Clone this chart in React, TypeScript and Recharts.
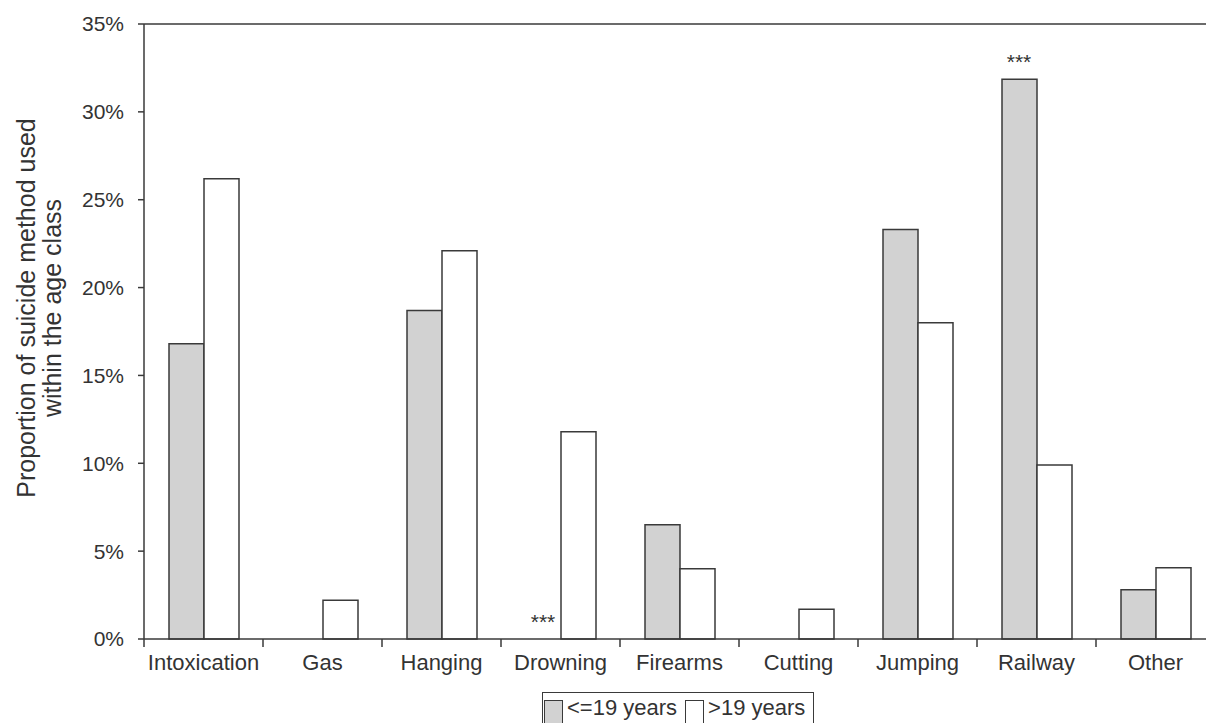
import React from "react";
import {
  BarChart,
  Bar,
  XAxis,
  YAxis,
  ReferenceLine,
  ReferenceDot,
  Legend,
  Label,
} from "recharts";

const methods = [
  "Intoxication",
  "Gas",
  "Hanging",
  "Drowning",
  "Firearms",
  "Cutting",
  "Jumping",
  "Railway",
  "Other",
];
const youngShare = [16.8, 0, 18.7, 0, 6.5, 0, 23.3, 31.85, 2.8];
const olderShare = [26.2, 2.2, 22.1, 11.8, 4.0, 1.7, 18.0, 9.9, 4.05];
const significance = ["", "", "", "***", "", "", "", "***", ""];
const yTicks = [0, 5, 10, 15, 20, 25, 30, 35];

const data = methods.map((name, i) => ({
  name,
  young: youngShare[i],
  older: olderShare[i],
}));

const FONT = "'Liberation Sans', Arial, Helvetica, sans-serif";
const TEXT = "#333";
const INK = "#3a3a3a";

const CHART_W = 1230;
const CHART_H = 723;
const Y_AXIS_W = 144;
const X_AXIS_H = 84;
const BAR_W = 35;
const MARGIN = { top: 24, right: 15, bottom: 0, left: 0 };
const BAND = (CHART_W - MARGIN.left - MARGIN.right - Y_AXIS_W) / methods.length;

function CategoryTick(props: any) {
  const { x, y, payload, index } = props;
  const last = index === methods.length - 1;
  return (
    <g>
      <line x1={x - BAND / 2} x2={x - BAND / 2} y1={y} y2={y + 8} stroke={INK} strokeWidth={1.5} />
      {last && (
        <line x1={x + BAND / 2} x2={x + BAND / 2} y1={y} y2={y + 8} stroke={INK} strokeWidth={1.5} />
      )}
      <text x={x} y={y + 31} textAnchor="middle" fontSize={22} fill={TEXT} fontFamily={FONT}>
        {payload.value}
      </text>
    </g>
  );
}

function YTitle() {
  return (
    <g fontFamily={FONT} fontSize={25} fill={TEXT} textAnchor="middle">
      <text transform="translate(35,308) rotate(-90)">Proportion of suicide method used</text>
      <text transform="translate(61,308) rotate(-90)">within the age class</text>
    </g>
  );
}

// "***" sits above the <=19 bar, which is the left half of the bar pair
function Stars(props: any) {
  const { cx, cy } = props;
  return (
    <text x={cx - BAR_W / 2} y={cy - 10} textAnchor="middle" fontSize={21} fill={TEXT} fontFamily={FONT}>
      ***
    </text>
  );
}

const swatch = (fill: string): React.CSSProperties => ({
  width: 17,
  height: 22,
  border: `1.5px solid ${INK}`,
  background: fill,
  display: "inline-block",
  flex: "none",
});

function AgeLegend() {
  return (
    <div
      style={{
        display: "flex",
        alignItems: "flex-start",
        border: `1.5px solid ${INK}`,
        padding: "7px 8px 4px 1px",
        fontFamily: FONT,
        fontSize: 22,
        color: TEXT,
        lineHeight: "24px",
        whiteSpace: "nowrap",
      }}
    >
      <span style={swatch("#d2d2d2")} />
      <span style={{ marginLeft: 4, marginRight: 8, marginTop: -4 }}>&lt;=19 years</span>
      <span style={swatch("#ffffff")} />
      <span style={{ marginLeft: 4, marginTop: -4 }}>&gt;19 years</span>
    </div>
  );
}

export default function App() {
  return (
    <div style={{ width: 1206, height: 723, overflow: "hidden", background: "#fff" }}>
      <style>{"html,body{margin:0;padding:0;overflow:hidden}"}</style>
      <BarChart width={CHART_W} height={CHART_H} data={data} margin={MARGIN} barGap={0}>
        <XAxis
          dataKey="name"
          height={X_AXIS_H}
          tickSize={0}
          tickMargin={0}
          tickLine={false}
          axisLine={{ stroke: INK, strokeWidth: 1.5 }}
          tick={<CategoryTick />}
          interval={0}
        />
        <YAxis
          width={Y_AXIS_W}
          domain={[0, 35]}
          ticks={yTicks}
          tickFormatter={(v: number) => `${v}%`}
          tickSize={6}
          tickMargin={14}
          tickLine={{ stroke: INK, strokeWidth: 1.5 }}
          axisLine={{ stroke: INK, strokeWidth: 1.5 }}
          tick={{ fontSize: 21, fill: TEXT, fontFamily: FONT }}
        >
          <Label content={<YTitle />} />
        </YAxis>
        <ReferenceLine y={35} stroke={INK} strokeWidth={1.5} />
        <Bar dataKey="young" name="<=19 years" fill="#d2d2d2" stroke={INK} strokeWidth={1.5} barSize={BAR_W} isAnimationActive={false} />
        <Bar dataKey="older" name=">19 years" fill="#ffffff" stroke={INK} strokeWidth={1.5} barSize={BAR_W} isAnimationActive={false} />
        {methods.map((name, i) =>
          significance[i] ? (
            <ReferenceDot key={name} x={name} y={youngShare[i]} shape={<Stars />} />
          ) : null
        )}
        <Legend
          verticalAlign="middle"
          align="center"
          layout="horizontal"
          content={<AgeLegend />}
          wrapperStyle={{ left: 542, top: 692, width: "auto", height: "auto" }}
        />
      </BarChart>
    </div>
  );
}
